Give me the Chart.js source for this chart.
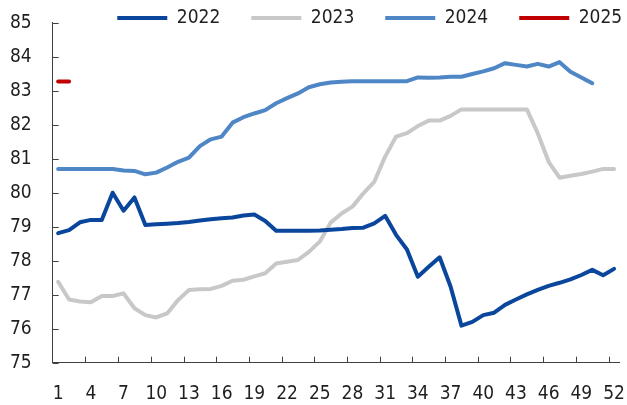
<!DOCTYPE html>
<html><head><meta charset="utf-8">
<script src="https://cdn.jsdelivr.net/npm/chart.js@4/dist/chart.umd.min.js"></script>
<style>html,body{margin:0;padding:0;background:#fff;}#wrap{width:627px;height:405px;}</style>
</head><body><div id="wrap"><canvas id="c" width="627" height="405"></canvas></div>
<script>
const weeks = ['1','2','3','4','5','6','7','8','9','10','11','12','13','14','15','16','17','18','19','20','21','22','23','24','25','26','27','28','29','30','31','32','33','34','35','36','37','38','39','40','41','42','43','44','45','46','47','48','49','50','51','52'];
const y2022 = [78.81,78.90,79.13,79.20,79.20,80.00,79.47,79.86,79.05,79.07,
  79.09,79.11,79.14,79.18,79.22,79.25,79.27,79.33,79.36,79.17,
  78.88,78.88,78.88,78.88,78.89,78.91,78.93,78.96,78.97,79.10,
  79.32,78.76,78.33,77.53,77.82,78.10,77.24,76.09,76.20,76.40,
  76.47,76.70,76.86,77.01,77.14,77.26,77.35,77.45,77.58,77.73,77.57,77.76];
const y2023 = [77.38,76.86,76.80,76.78,76.96,76.96,77.04,76.60,76.40,76.33,
  76.45,76.84,77.14,77.16,77.17,77.26,77.41,77.44,77.54,77.63,
  77.92,77.97,78.02,78.26,78.56,79.12,79.39,79.59,79.98,80.32,
  81.06,81.65,81.75,81.96,82.12,82.12,82.26,82.45,82.45,82.45,
  82.45,82.45,82.45,82.45,81.75,80.91,80.44,80.50,80.55,80.62,80.70,80.70];
const y2024 = [80.70,80.70,80.70,80.70,80.70,80.70,80.65,80.64,80.54,80.59,
  80.74,80.91,81.03,81.37,81.57,81.65,82.06,82.22,82.33,82.43,
  82.63,82.78,82.92,83.10,83.19,83.24,83.26,83.28,83.28,83.28,
  83.28,83.28,83.28,83.39,83.38,83.39,83.41,83.41,83.49,83.57,
  83.66,83.81,83.76,83.71,83.79,83.71,83.84,83.56,83.39,83.22];
const y2025 = [83.27,83.27];
const seriesNames = ['2022','2023','2024','2025'];
const yTicks = [75,76,77,78,79,80,81,82,83,84,85];

const AXIS = '#404040';
const TEXT = '#1f1f1f';
const FONT = "'DejaVu Sans Condensed','Liberation Sans Narrow','DejaVu Sans',sans-serif";
const LEGEND_X = 60, LEGEND_TEXT_Y = 18;

const tickMarks = {
  id: 'tickMarks',
  afterDatasetsDraw(chart) {
    const {ctx, chartArea: a, scales: {x, y}} = chart;
    ctx.save();
    ctx.strokeStyle = AXIS; ctx.lineWidth = 1;
    ctx.beginPath();
    for (let k = 3; k < weeks.length; k += 3) {
      const px = Math.round((x.getPixelForValue(k - 1) + x.getPixelForValue(k)) / 2) + 0.5;
      ctx.moveTo(px, a.bottom); ctx.lineTo(px, a.bottom - 6);
    }
    y.ticks.forEach(t => {
      const py = Math.round(y.getPixelForValue(t.value)) + 0.5;
      ctx.moveTo(a.left, py); ctx.lineTo(a.left + 6, py);
    });
    ctx.stroke();
    ctx.restore();
  }
};
const legendShift = {
  id: 'legendShift',
  afterLayout(chart) {
    const l = chart.legend; if (!l) return;
    const pad = l.options.labels.padding, fs = l.options.labels.font.size;
    l.left += LEGEND_X; l.right += LEGEND_X;
    l.top = LEGEND_TEXT_Y - pad - fs / 2;
    l.bottom = Math.max(l.bottom, LEGEND_TEXT_Y + fs);
  }
};

const colors = ['#0a469c', '#c8c8c8', '#4f86c6', '#c00000'];
const dataSets = [y2022, y2023, y2024, y2025];

new Chart(document.getElementById('c'), {
  type: 'line',
  data: {
    labels: weeks,
    datasets: dataSets.map((d, i) => ({
      label: seriesNames[i], data: d,
      borderColor: colors[i], backgroundColor: colors[i],
      borderWidth: 4, pointRadius: 0, tension: 0,
      borderCapStyle: 'round', borderJoinStyle: 'round',
      pointStyle: 'line'
    }))
  },
  options: {
    responsive: false, animation: false, devicePixelRatio: 1,
    layout: { padding: { left: 0, right: 7.5, top: 0, bottom: 0 } },
    plugins: {
      tooltip: { enabled: false },
      legend: {
        position: 'top', align: 'center', maxHeight: 22.7,
        labels: {
          usePointStyle: true, pointStyleWidth: 50, padding: 31,
          color: TEXT, font: { family: FONT, size: 19 }
        }
      }
    },
    scales: {
      x: {
        type: 'category', offset: true,
        grid: { display: false, drawTicks: true, tickLength: 20, offset: true },
        border: { display: true, color: AXIS, width: 1 },
        ticks: {
          autoSkip: false, maxRotation: 0, padding: 0, color: TEXT,
          font: { family: FONT, size: 19 },
          callback: (v, i) => (i % 3 === 0 ? weeks[i] : '')
        },
        afterFit: s => { s.height = 42.3; }
      },
      y: {
        min: 75, max: 85,
        afterBuildTicks: s => { s.ticks = yTicks.map(v => ({ value: v })); },
        grid: { display: false, drawTicks: true, tickLength: 21 },
        border: { display: true, color: AXIS, width: 1 },
        ticks: { padding: 0, color: TEXT, font: { family: FONT, size: 19 } },
        afterFit: s => { s.width = 52.7; }
      }
    }
  },
  plugins: [legendShift, tickMarks]
});
</script></body></html>
